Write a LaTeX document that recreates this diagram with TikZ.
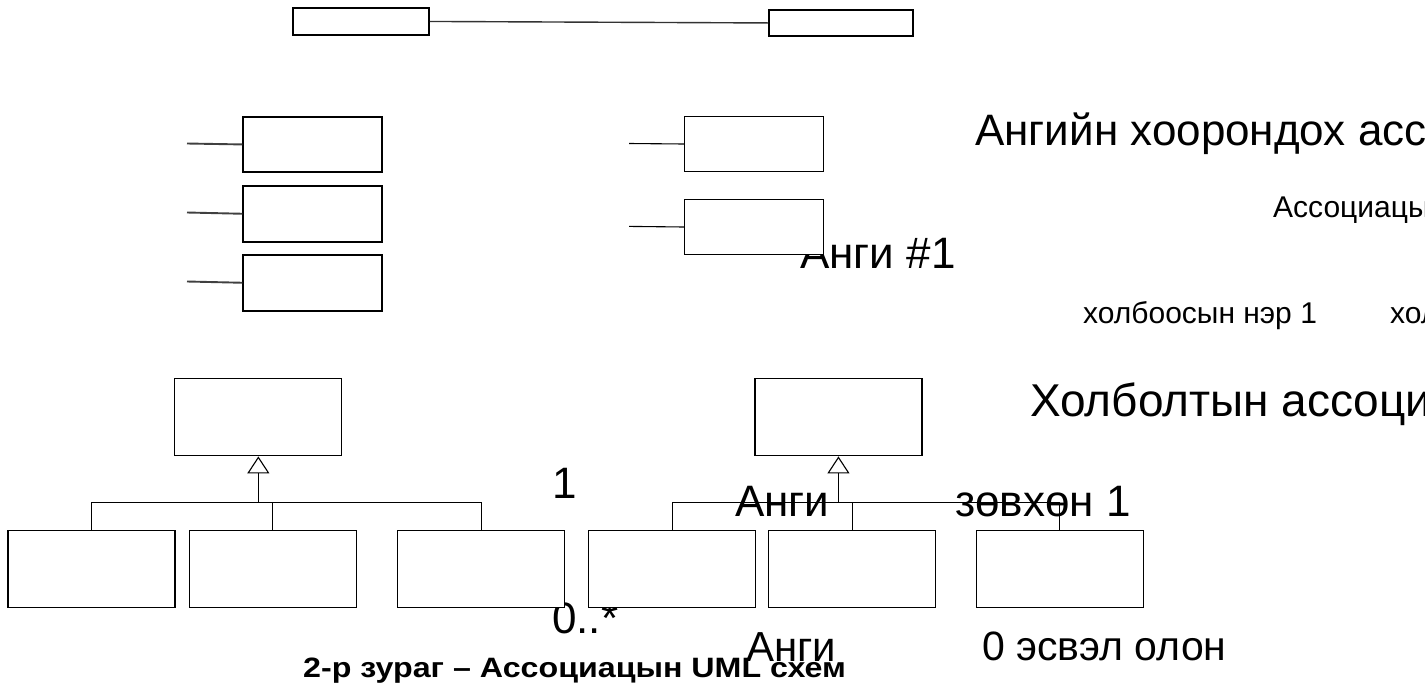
\documentclass[tikz,border=0pt]{standalone}
\usepackage{fontspec}
\setmainfont{Liberation Sans}
\usetikzlibrary{arrows.meta}
\begin{document}
\begin{tikzpicture}[x=1pt,y=-1pt,
  classbox/.style={draw, fill=white, rectangle, inner sep=0pt, anchor=north west, line width=1.1pt},
  heavybox/.style={classbox, line width=1.9pt},
  wire/.style={line width=1.1pt},
  heavywire/.style={line width=1.9pt, draw=black!75},
  general/.style={wire, -{Triangle[open, length=17pt, width=22pt]}},
  bigtext/.style={font=\fontsize{44}{50}\selectfont, anchor=base west, inner sep=0pt},
  midtext/.style={font=\fontsize{30}{34}\selectfont, anchor=base west, inner sep=0pt},
  captiontext/.style={font=\bfseries\fontsize{28}{32}\selectfont, anchor=base west, inner sep=0pt},
  colbox/.style={heavybox, minimum width=138.7pt, minimum height=55.6pt},
  midbox/.style={classbox, minimum width=139pt, minimum height=55.5pt},
  genbox/.style={classbox, minimum width=167pt, minimum height=77pt}
]
\useasboundingbox (0,0) rectangle (1425,686);
\clip (0,0) rectangle (1425,686);

% labels (the class boxes are drawn over them)
\node[bigtext] (title1) at (975,145) {Ангийн хоорондох ассоциаци};
\node[midtext] (assocname) at (1273,217) {Ассоциацын нэр};
\node[midtext] (role1) at (1083,323) {холбоосын нэр 1};
\node[midtext] (role2) at (1390,323) {холбоосын нэр 2};
\node[bigtext] (class1) at (800,268) {Анги \#1};
\node[bigtext, font=\fontsize{46}{52}\selectfont] (title2) at (1030,416) {Холболтын ассоциаци};
\node[bigtext] (mult1) at (552,498) {1};
\node[bigtext] (class2) at (735,516) {Анги};
\node[bigtext] (only1) at (955,516) {зөвхөн 1};
\node[bigtext] (mult2) at (552,633) {0..*};
\node[bigtext, font=\fontsize{42}{48}\selectfont] (class3) at (746,661) {Анги};
\node[bigtext, font=\fontsize{41}{46}\selectfont] (many) at (982,660) {0 эсвэл олон};
\node[captiontext] (caption) at (303,677) {\scalebox{1.15}[1]{2-р зураг – Ассоциацын UML схем}};

% association between two classes
\node[heavybox, minimum width=136pt, minimum height=27pt] (t1) at (292,7) {};
\node[heavybox, minimum width=144pt, minimum height=26pt] (t2) at (768,9) {};
\draw[wire, line width=1.4pt, draw=black!80] (t1.east) -- (t2.west);

% classes with a single link stub
\node[colbox] (l1) at (242.3,115.7) {};
\node[colbox] (l2) at (242.3,185) {};
\node[colbox] (l3) at (242.3,254) {};
\coordinate (s1) at (187,143.5);
\coordinate (s2) at (187,212.5);
\coordinate (s3) at (187,281.5);
\draw[heavywire] (s1) -- (l1.west);
\draw[heavywire] (s2) -- (l2.west);
\draw[heavywire] (s3) -- (l3.west);

\node[midbox] (m1) at (684.3,115.7) {};
\node[midbox] (m2) at (684.3,198.7) {};
\coordinate (s4) at (629,143.5);
\coordinate (s5) at (629,226.4);
\draw[wire] (s4) -- (m1.west);
\draw[wire] (s5) -- (m2.west);

% generalization hierarchy, left
\node[genbox] (pa) at (174.3,378.3) {};
\node[genbox] (a1) at (7.4,530.3) {};
\node[genbox] (a2) at (188.5,530.3) {};
\node[genbox] (a3) at (397,530.3) {};
\coordinate (ja) at (pa.south |- 0,502.7);
\draw[wire] (a1.north) |- (ja) -| (a3.north);
\draw[wire] (a2.north) -- (a2.north |- ja);
\draw[general] (ja) -- (pa.south);

% generalization hierarchy, right
\node[genbox] (pb) at (754.4,378.3) {};
\node[genbox] (b1) at (588,530.3) {};
\node[genbox] (b2) at (768,530.3) {};
\node[genbox] (b3) at (975.5,530.3) {};
\coordinate (jb) at (pb.south |- 0,502.7);
\draw[wire] (b1.north) |- (jb) -| (b3.north);
\draw[wire] (b2.north) -- (b2.north |- jb);
\draw[general] (jb) -- (pb.south);
\end{tikzpicture}
\end{document}
